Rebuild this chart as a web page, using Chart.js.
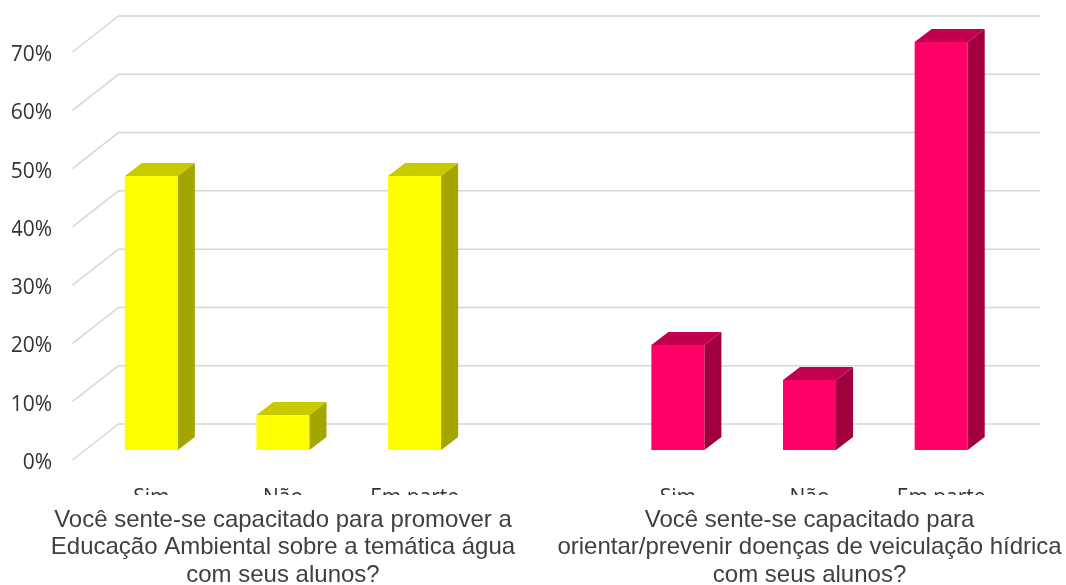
<!DOCTYPE html>
<html>
<head>
<meta charset="utf-8">
<script src="https://cdn.jsdelivr.net/npm/chart.js@4.4.1/dist/chart.umd.min.js"></script>
<style>
  html, body { margin: 0; padding: 0; background: #fff; }
  #wrap { width: 1066px; height: 585px; }
</style>
</head>
<body>
<div id="wrap"><canvas id="chart" width="1066" height="585"></canvas></div>
<script>
// categories: 2 groups of 3 answers, empty slot between them
const answers = ['Sim', 'Não', 'Em parte', '', 'Sim', 'Não', 'Em parte'];
const questions = [
    '',
    ['Você sente-se capacitado para promover a', 'Educação Ambiental sobre a temática água', 'com seus alunos?'],
    '', '', '',
    ['Você sente-se capacitado para', 'orientar/prevenir doenças de veiculação hídrica', 'com seus alunos?'],
    ''
];
const percentages = [47, 6, 47, null, 18, 12, 70];
const yTicks = [0, 10, 20, 30, 40, 50, 60, 70];

const frontColors = ['#ffff00', '#ffff00', '#ffff00', '#ffff00', '#ff0066', '#ff0066', '#ff0066'];
const topColors   = ['#c9c900', '#c9c900', '#c9c900', '#c9c900', '#c2004f', '#c2004f', '#c2004f'];
const sideColors  = ['#a5a500', '#a5a500', '#a5a500', '#a5a500', '#a0003e', '#a0003e', '#a0003e'];

// perspective of the floor / walls and of the bars
const wallBack = { dx: 33, dy: -26 };
const wallFront = { dx: -13, dy: 10 };
const barDepth = { dx: 17, dy: -13 };

const gridWalls = {
    id: 'gridWalls',
    beforeDatasetsDraw(chart) {
        const { ctx, chartArea, scales } = chart;
        ctx.save();
        ctx.strokeStyle = '#d6d6d6';
        ctx.lineWidth = 1.5;
        yTicks.forEach(v => {
            const y = scales.y.getPixelForValue(v);
            ctx.beginPath();
            ctx.moveTo(chartArea.left + wallFront.dx, y + wallFront.dy);
            ctx.lineTo(chartArea.left + wallBack.dx, y + wallBack.dy);
            ctx.lineTo(chartArea.right + wallBack.dx, y + wallBack.dy);
            ctx.stroke();
        });
        ctx.restore();
    }
};

const barFaces = {
    id: 'barFaces',
    afterDatasetsDraw(chart) {
        const { ctx } = chart;
        const meta = chart.getDatasetMeta(0);
        ctx.save();
        meta.data.forEach((bar, i) => {
            if (percentages[i] == null) return;
            const { x, y, base, width } = bar.getProps(['x', 'y', 'base', 'width'], true);
            const x0 = x - width / 2, x1 = x + width / 2;
            // top
            ctx.fillStyle = topColors[i];
            ctx.beginPath();
            ctx.moveTo(x0, y);
            ctx.lineTo(x1, y);
            ctx.lineTo(x1 + barDepth.dx, y + barDepth.dy);
            ctx.lineTo(x0 + barDepth.dx, y + barDepth.dy);
            ctx.closePath();
            ctx.fill();
            // side
            ctx.fillStyle = sideColors[i];
            ctx.beginPath();
            ctx.moveTo(x1, y);
            ctx.lineTo(x1 + barDepth.dx, y + barDepth.dy);
            ctx.lineTo(x1 + barDepth.dx, base + barDepth.dy);
            ctx.lineTo(x1, base);
            ctx.closePath();
            ctx.fill();
        });
        ctx.restore();
    },
    afterDraw(chart) {
        // the answer labels are cut off by the question text in the original
        const { ctx, scales } = chart;
        ctx.save();
        ctx.fillStyle = '#fff';
        ctx.fillRect(0, scales.x2.top, chart.width, 9);
        ctx.restore();
    }
};

new Chart(document.getElementById('chart'), {
    type: 'bar',
    data: {
        labels: answers,
        datasets: [{
            data: percentages,
            backgroundColor: frontColors,
            borderWidth: 0,
            categoryPercentage: 1,
            barPercentage: 0.403
        }]
    },
    options: {
        responsive: false,
        animation: false,
        layout: { padding: { left: 12, right: 59, top: 42, bottom: 0 } },
        plugins: { legend: { display: false }, tooltip: { enabled: false } },
        scales: {
            y: {
                min: 0,
                max: 70,
                grid: { display: false, drawTicks: false },
                border: { display: false },
                afterFit: s => {
                    s.width = 73.5;
                    s.paddingTop = 0;
                    s.paddingBottom = 0;
                },
                ticks: {
                    stepSize: 10,
                    padding: 33.5,
                    labelOffset: 13,
                    color: '#333',
                    font: { family: 'Open Sans', size: 21 },
                    callback: v => v + '%'
                }
            },
            x: {
                grid: { display: false, drawTicks: false },
                border: { display: false },
                afterFit: s => { s.height = 45; },
                ticks: {
                    padding: 35,
                    maxRotation: 0,
                    autoSkip: false,
                    color: '#333',
                    font: { family: 'Open Sans', size: 21 }
                }
            },
            x2: {
                type: 'category',
                position: 'bottom',
                labels: questions,
                offset: true,
                grid: { display: false, drawTicks: false },
                border: { display: false },
                afterFit: s => { s.height = 90; },
                ticks: {
                    padding: 11.5,
                    maxRotation: 0,
                    minRotation: 0,
                    autoSkip: false,
                    color: '#404040',
                    font: { family: 'Liberation Sans', size: 24, lineHeight: 1.14 }
                }
            }
        }
    },
    plugins: [gridWalls, barFaces]
});
</script>
</body>
</html>
